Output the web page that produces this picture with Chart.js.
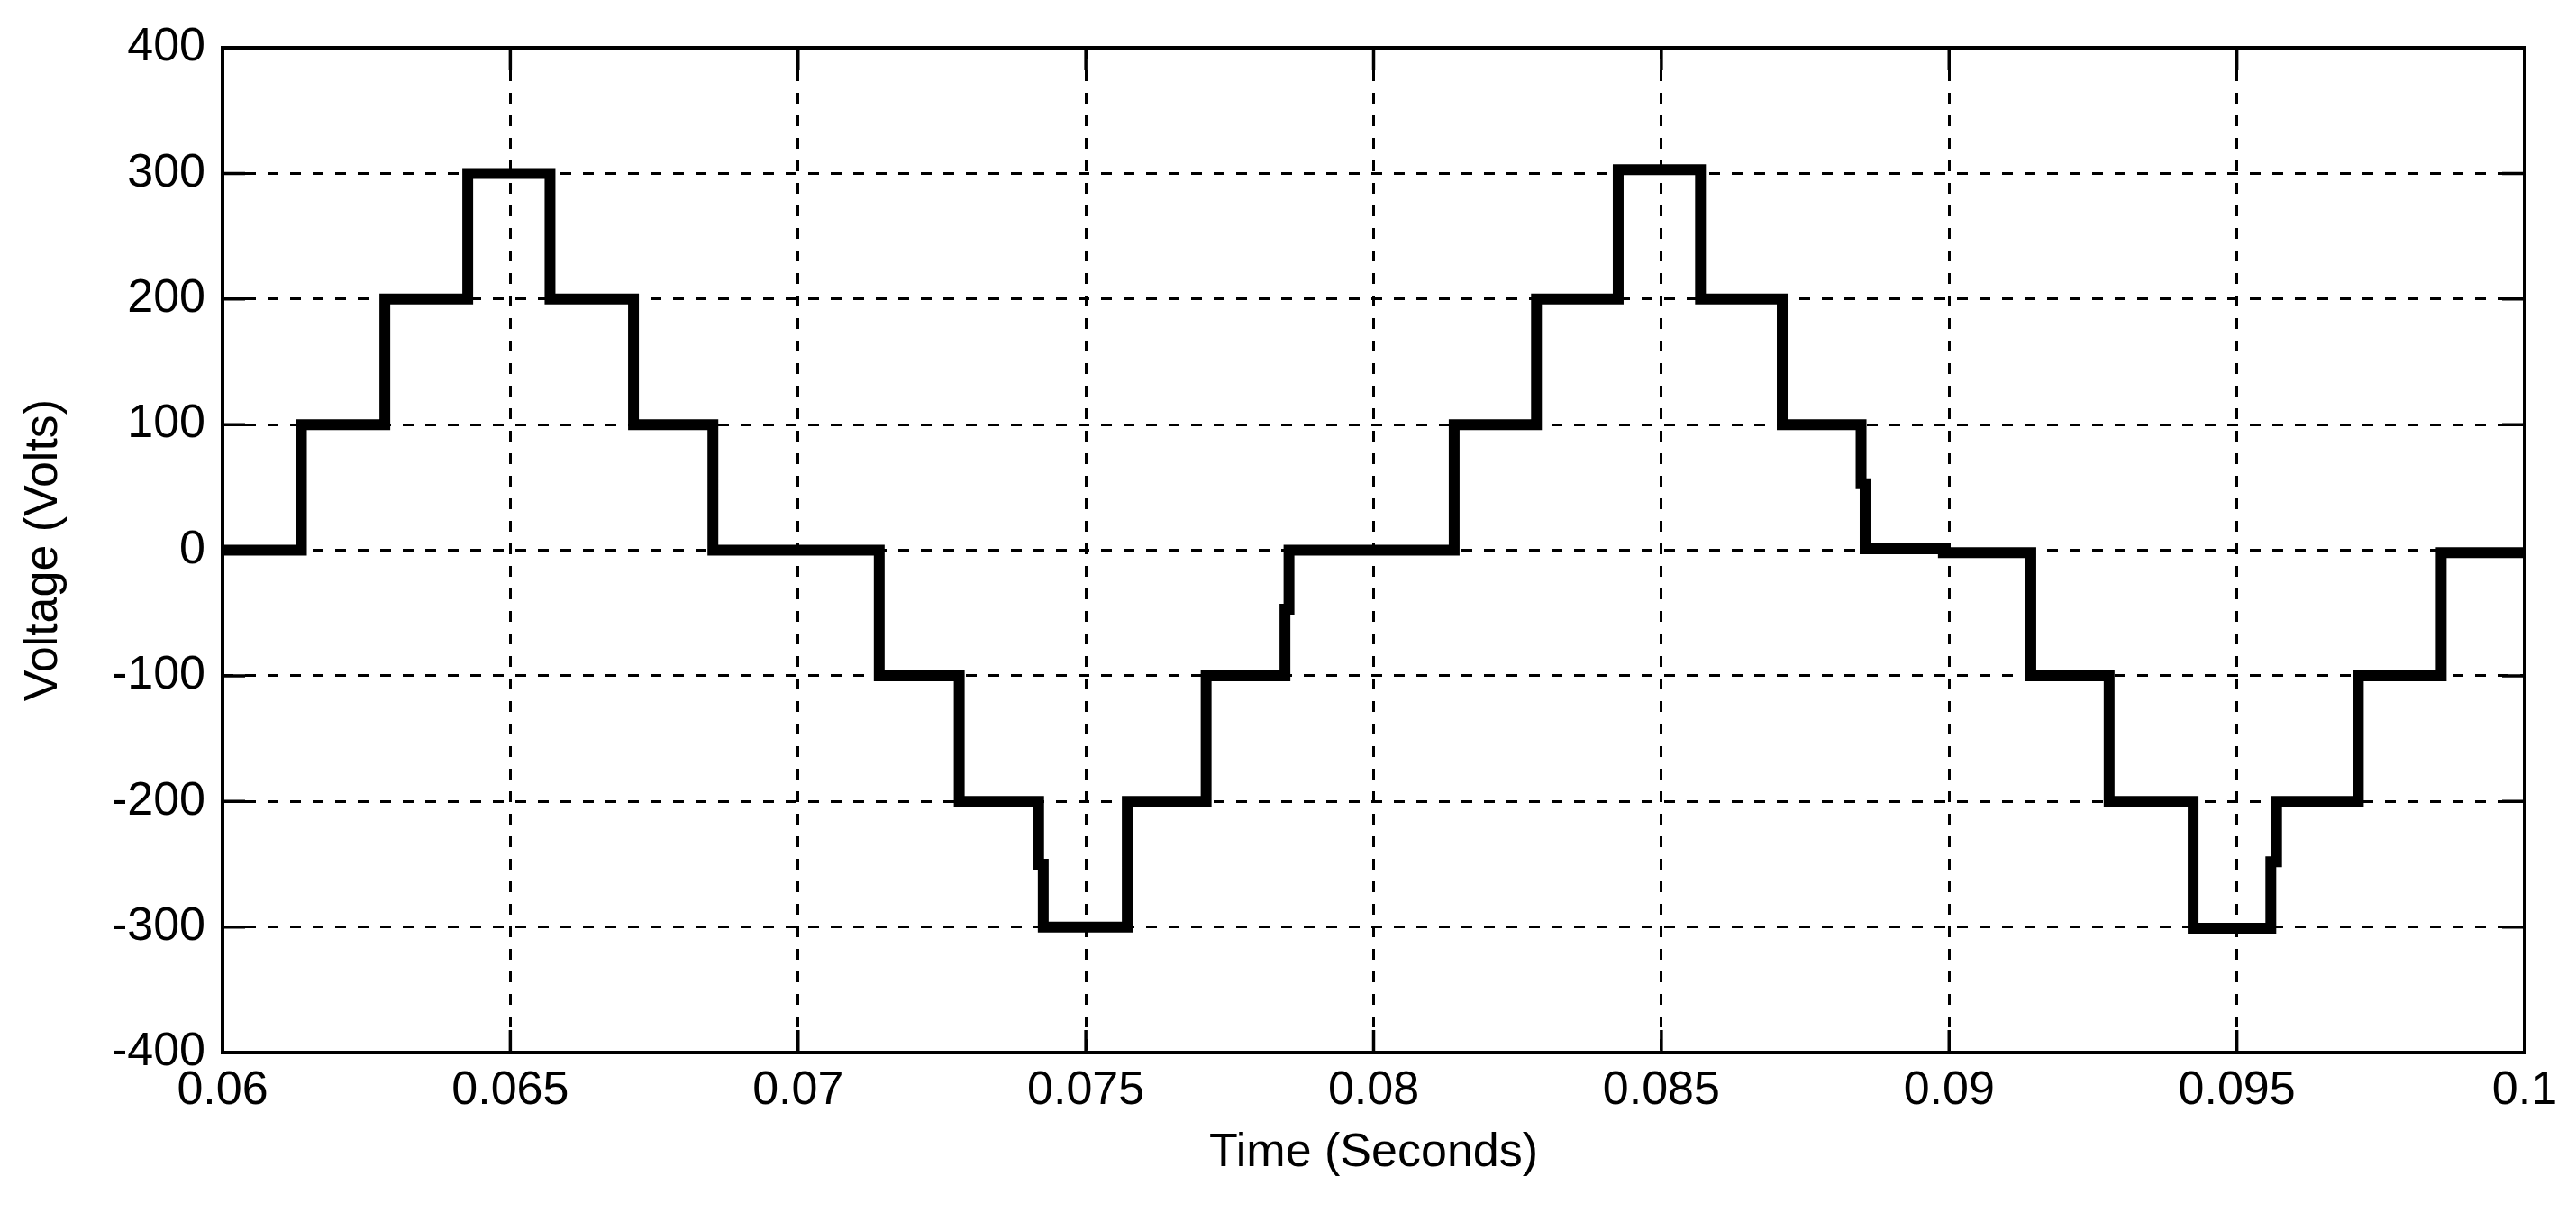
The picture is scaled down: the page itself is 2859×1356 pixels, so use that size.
<!DOCTYPE html>
<html>
<head>
<meta charset="utf-8">
<title>Voltage (Volts) vs Time (Seconds)</title>
<script src="https://cdn.jsdelivr.net/npm/chart.js@4.4.1/dist/chart.umd.min.js"></script>
<style>
  html, body { margin: 0; padding: 0; background: #fff; }
  #wrap { width: 2859px; height: 1356px; }
</style>
</head>
<body>
<div id="wrap"><canvas id="voltageChart"></canvas></div>
<script>
// switching instants (s) and the level (V) the output holds from that instant on
var stepTimes = [0.06, 0.06137, 0.06282, 0.06426, 0.06569, 0.06714, 0.06852,
                 0.07141, 0.07280, 0.07418, 0.07426, 0.07572, 0.07709, 0.07846, 0.07853,
                 0.08140, 0.08283, 0.08425, 0.08568, 0.08710, 0.08847, 0.08854, 0.08990,
                 0.09142, 0.09278, 0.09424, 0.09559, 0.09569, 0.09711, 0.09855, 0.1];
var stepVolts = [0, 100, 200, 300, 200, 100, 0,
                 -100, -200, -250, -300, -200, -100, -47, 0,
                 100, 200, 303, 200, 100, 53, 1, -2,
                 -100, -200, -301, -248, -200, -100, -2, -2];

var xTicks = [0.06, 0.065, 0.07, 0.075, 0.08, 0.085, 0.09, 0.095, 0.1];
var xTickLabels = ['0.06', '0.065', '0.07', '0.075', '0.08', '0.085', '0.09', '0.095', '0.1'];
var yTicks = [-400, -300, -200, -100, 0, 100, 200, 300, 400];

var labelFont = { family: "'Liberation Sans', Arial, sans-serif", size: 52, lineHeight: 1 };

// matlab style box with inward tick marks
var boxAndTicks = {
    id: 'boxAndTicks',
    afterDatasetsDraw: function(chart) {
        var ctx = chart.ctx, a = chart.chartArea;
        var xs = chart.scales.x, ys = chart.scales.y;
        var len = 25;
        ctx.save();
        ctx.strokeStyle = '#000';
        ctx.lineWidth = 3.5;
        ctx.beginPath();
        xTicks.forEach(function(v) {
            var px = xs.getPixelForValue(v);
            ctx.moveTo(px, a.bottom); ctx.lineTo(px, a.bottom - len);
            ctx.moveTo(px, a.top); ctx.lineTo(px, a.top + len);
        });
        yTicks.forEach(function(v) {
            var py = ys.getPixelForValue(v);
            ctx.moveTo(a.left, py); ctx.lineTo(a.left + len, py);
            ctx.moveTo(a.right, py); ctx.lineTo(a.right - len, py);
        });
        ctx.stroke();
        ctx.lineWidth = 4;
        ctx.strokeRect(a.left, a.top, a.right - a.left, a.bottom - a.top);
        ctx.restore();
    }
};

var ctx = document.getElementById('voltageChart').getContext('2d');
var voltageChart = new Chart(ctx, {
    type: 'line',
    data: {
        datasets: [{
            label: 'Voltage',
            data: stepTimes.map(function(t, i) { return { x: t, y: stepVolts[i] }; }),
            stepped: 'before',
            borderColor: '#000',
            borderWidth: 12,
            borderJoinStyle: 'miter',
            borderCapStyle: 'butt',
            pointRadius: 0,
            fill: false
        }]
    },
    options: {
        responsive: true,
        maintainAspectRatio: false,
        devicePixelRatio: 1,
        animation: false,
        layout: {
            padding: { left: 0, top: 53, right: 57, bottom: 0 }
        },
        plugins: {
            legend: { display: false },
            tooltip: { enabled: false }
        },
        scales: {
            x: {
                type: 'linear',
                min: 0.06,
                max: 0.1,
                afterFit: function(scale) { scale.height = 188; },
                afterBuildTicks: function(scale) {
                    scale.ticks = xTicks.map(function(v) { return { value: v }; });
                },
                ticks: {
                    color: '#000',
                    font: labelFont,
                    padding: 17,
                    maxRotation: 0,
                    autoSkip: false,
                    callback: function(value, index) { return xTickLabels[index]; }
                },
                grid: {
                    color: '#000',
                    lineWidth: 3,
                    drawTicks: false
                },
                border: { display: false, dash: [12, 13] },
                title: {
                    display: true,
                    text: 'Time (Seconds)',
                    color: '#000',
                    font: labelFont,
                    padding: { top: 0, bottom: 50 }
                }
            },
            y: {
                type: 'linear',
                min: -400,
                max: 400,
                afterFit: function(scale) { scale.width = 247; },
                afterBuildTicks: function(scale) {
                    scale.ticks = yTicks.map(function(v) { return { value: v }; });
                },
                ticks: {
                    color: '#000',
                    font: labelFont,
                    padding: 19,
                    autoSkip: false
                },
                grid: {
                    color: '#000',
                    lineWidth: 3,
                    drawTicks: false
                },
                border: { display: false, dash: [12, 13] },
                title: {
                    display: true,
                    text: 'Voltage (Volts)',
                    color: '#000',
                    font: labelFont,
                    padding: { top: 23, bottom: 0 }
                }
            }
        }
    },
    plugins: [boxAndTicks]
});
</script>
</body>
</html>
